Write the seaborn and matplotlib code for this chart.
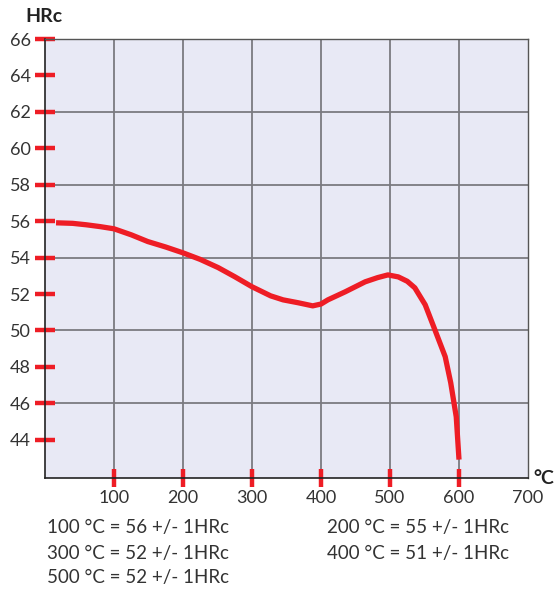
import matplotlib
matplotlib.use("Agg")
import matplotlib.pyplot as plt
import seaborn as sns

# tempering curve
temp = [16, 40, 60, 80, 100, 125, 149, 175, 200, 225, 251, 275, 300, 327, 345,
        367, 388, 400, 410, 435, 464, 482, 497, 512, 525, 536, 551, 565, 580,
        588, 596, 600]
hrc = [55.91, 55.88, 55.8, 55.7, 55.58, 55.25, 54.88, 54.58, 54.26, 53.9, 53.45,
       52.95, 52.40, 51.9, 51.68, 51.52, 51.35, 51.45, 51.68, 52.12, 52.67,
       52.9, 53.05, 52.94, 52.7, 52.34, 51.41, 50.04, 48.56, 47.13, 45.26, 42.91]

x_ticks = [100, 200, 300, 400, 500, 600, 700]
y_ticks = [44, 46, 48, 50, 52, 54, 56, 58, 60, 62, 64, 66]
x_grid = [100, 200, 300, 400, 500, 600]
y_grid = [46, 50, 54, 58, 62, 66]

note_temps = [100, 200, 300, 400, 500]
note_hrc = [56, 55, 52, 51, 52]

RED = "#ee1d25"
TXT = "#333333"
GRID = "#7b7b80"

sns.set_style("white")
plt.rcParams["font.family"] = ["Lato", "DejaVu Sans"]

fig = plt.figure(figsize=(5.55, 5.89), dpi=100)
ax = fig.add_axes([45 / 555, 1 - 478 / 589, 483 / 555, 439 / 589])
ax.set_facecolor("#e8e9f5")

# grid drawn below the red ticks
for gx in x_grid:
    ax.axvline(gx, color=GRID, linewidth=1.3, zorder=0.5)
for gy in y_grid:
    ax.axhline(gy, color=GRID, linewidth=1.3, zorder=0.5)

sns.lineplot(x=temp, y=hrc, ax=ax, color=RED, linewidth=3.8, sort=False,
             solid_capstyle="butt", solid_joinstyle="round", zorder=3)

ax.set_xlim(0, 700)
ax.set_ylim(41.9, 66)
ax.set_xticks(x_ticks)
ax.set_yticks(y_ticks)
ax.grid(False)

ax.tick_params(axis="both", which="both", bottom=True, left=True)
ax.tick_params(axis="y", which="major", direction="inout", length=14, width=3.2,
               color=RED, labelsize=13, labelcolor=TXT, pad=3)
ax.tick_params(axis="x", which="major", direction="inout", length=13, width=3.2,
               color=RED, labelsize=13, labelcolor=TXT, pad=2)
ax.xaxis.get_major_ticks()[-1].tick1line.set_visible(False)

for s in ["left", "bottom"]:
    ax.spines[s].set_color("#222222")
    ax.spines[s].set_linewidth(1.2)
for s in ["top", "right"]:
    ax.spines[s].set_color("#555555")
    ax.spines[s].set_linewidth(1.0)

ax.set_xlabel("")
ax.set_ylabel("")

fig.text(25 / 555, 1 - 17 / 589, "HRc", fontsize=14, fontweight="bold",
         color="#222222", va="center", ha="left")
fig.text(533 / 555, 1 - 478 / 589, "°C", fontsize=14, fontweight="bold",
         color="#222222", va="center", ha="left")

rows = [528, 553, 578]
cols = [47, 327]
for i, (t, h) in enumerate(zip(note_temps, note_hrc)):
    fig.text(cols[i % 2] / 555, 1 - rows[i // 2] / 589,
             f"{t} °C = {h} +/- 1HRc", fontsize=13.5, color=TXT,
             va="center", ha="left")

fig.savefig("out.png", dpi=100)
